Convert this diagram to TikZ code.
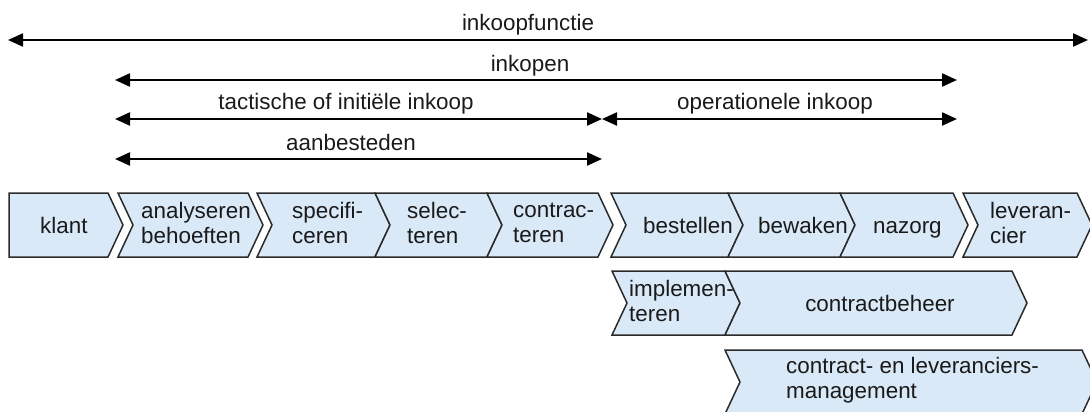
\documentclass[tikz,border=0pt]{standalone}
\usepackage{fontspec}
\setmainfont{Liberation Sans}
\usetikzlibrary{arrows.meta}
\definecolor{boxfill}{HTML}{DAE9F7}
\definecolor{boxline}{HTML}{2B2B2B}
\definecolor{txt}{HTML}{1A1A1A}
% xl, xr (top corner), yt, yb, notch depth, tip depth
\newcommand{\chevshape}[6]{%
  \draw[chev] (#1,#3) -- (#2,#3) -- ({#2+#6},{(#3+#4)/2}) -- (#2,#4) -- (#1,#4) -- ({#1+#5},{(#3+#4)/2}) -- cycle;}
\begin{document}
\begin{tikzpicture}[x=1pt,y=-1pt,
  chev/.style={fill=boxfill,draw=boxline,line width=1.5pt,line join=miter},
  lbl/.style={inner sep=0pt,text=txt,font=\fontsize{22.4}{25}\selectfont},
  multi/.style={lbl,align=left,anchor=west},
  dim/.style={line width=2.2pt,{Triangle[length=15pt,width=13pt]}-{Triangle[length=15pt,width=13pt]}}]
\useasboundingbox (0,0) rectangle (1090,412);
\clip (0,0) rectangle (1090,412);

% ---------- dimension arrows ----------
\coordinate (f1) at (8,40);    \coordinate (f2) at (1088,40);
\coordinate (p1) at (115,80);  \coordinate (p2) at (957,80);
\coordinate (t1) at (115,119); \coordinate (t2) at (602,119);
\coordinate (o1) at (602,119); \coordinate (o2) at (957,119);
\coordinate (a1) at (115,159); \coordinate (a2) at (602,159);
\draw[dim] (f1) -- (f2);
\draw[dim] (p1) -- (p2);
\draw[dim] (t1) -- (t2);
\draw[dim] (o1) -- (o2);
\draw[dim] (a1) -- (a2);
\node[lbl,anchor=base] (tinkf) at (528,31) {inkoopfunctie};
\node[lbl,anchor=base] (tinkp) at (530,71) {inkopen};
\node[lbl,anchor=base] (ttac) at (346,110) {tactische of initiële inkoop};
\node[lbl,anchor=base] (tope) at (775,110) {operationele inkoop};
\node[lbl,anchor=base] (taan) at (351,150) {aanbesteden};

% ---------- row 1 ----------
\chevshape{9}{108}{193}{257}{0}{15}
\chevshape{118}{248}{193}{257}{15}{15}
\chevshape{257}{375}{193}{257}{15}{15}
\chevshape{375}{487}{193}{257}{15}{15}
\chevshape{487}{598}{193}{257}{15}{15}
\chevshape{611}{728}{193}{257}{15}{15}
\chevshape{728}{840}{193}{257}{15}{15}
\chevshape{840}{953}{193}{257}{15}{15}
\chevshape{963}{1077}{193}{257}{15}{15}
\node[lbl,anchor=base west] (klant) at (40,233) {klant};
\node[multi] (anal) at (141,223) {analyseren\\behoeften};
\node[multi] (spec) at (292,223) {specifi-\\ceren};
\node[multi] (sel) at (407,223) {selec-\\teren};
\node[multi] (contr) at (513,223) {contrac-\\teren};
\node[lbl,anchor=base west] (best) at (643,233) {bestellen};
\node[lbl,anchor=base west] (bew) at (758,233) {bewaken};
\node[lbl,anchor=base west] (naz) at (873,233) {nazorg};
\node[multi] (lev) at (990,223) {leveran-\\cier};

% ---------- row 2 ----------
\chevshape{612}{725}{271}{335}{15}{15}
\chevshape{725}{1012}{271}{335}{15}{15}
\node[multi] (impl) at (629,301) {implemen-\\teren};
\node[lbl,anchor=base] (cbeh) at (880,311) {contractbeheer};

% ---------- row 3 ----------
\chevshape{725}{1082}{350}{414}{15}{15}
\node[multi] (clm) at (786,380) {contract- en leveranciers-\\management};
\end{tikzpicture}
\end{document}
